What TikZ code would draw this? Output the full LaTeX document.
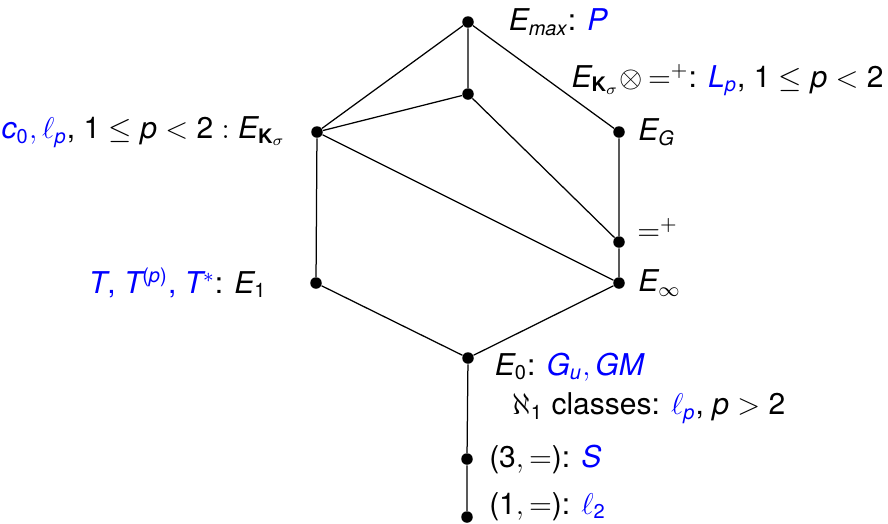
\documentclass[tikz,border=0pt]{standalone}
\usepackage{amsmath}
\usepackage{fontspec}
\setmainfont{TeX Gyre Heros}
\usepackage{tikz}
\usetikzlibrary{positioning}
\newcommand{\mi}[1]{\mathit{#1}}
\newcommand{\nd}[1]{\text{#1}}
\newcommand{\bl}[1]{\textcolor{blue}{#1}}

\begin{document}
\begin{tikzpicture}[
  x=0.4pt, y=-0.4pt,
  font=\fontsize{12}{14}\selectfont,
  dot/.style={circle, fill=black, inner sep=0pt, minimum size=4.6pt},
  lbl/.style={inner sep=0pt},
  edge/.style={line width=0.5pt}
]
\useasboundingbox (0,0) rectangle (888,523);
% lattice points
\node[dot] (vmax) at (468,22) {};
\node[dot] (vmid) at (468,94) {};
\node[dot] (vKs) at (317,132) {};
\node[dot] (vG) at (619,132) {};
\node[dot] (vplus) at (619,242) {};
\node[dot] (vinf) at (619,283) {};
\node[dot] (v1) at (316,283) {};
\node[dot] (v0) at (468,358) {};
\node[dot] (v3) at (467,459) {};
\node[dot] (vone) at (467,517) {};
% labels
\node[lbl, anchor=west] (lprod) at (571,80)
  {$\mi{E}_{\mathbf{K}_\sigma}{\otimes}\,{=}^{+}$: \bl{$\mi{L}_{\mi{p}}$}, $\nd{1}\le\mi{p}<\nd{2}$};
\node[lbl, right=13.6pt of vmax] (lmax) {$\mi{E}_{\mi{max}}$: \bl{$\mi{P}$}};
\node[lbl, right=5pt of vG] (lG) {$\mi{E}_{\mi{G}}$};
\node[lbl, right=4.6pt of vplus, yshift=5pt] (lplus) {$=^{+}$};
\node[lbl, right=5pt of vinf] (linf) {$\mi{E}_\infty$};
\node[lbl, left=9.6pt of vKs] (lKs)
  {\bl{$\mi{c}_{\nd{0}},\ell_{\mi{p}}$}, $\nd{1}\le\mi{p}<\nd{2}:\mi{E}_{\mathbf{K}_\sigma}$};
\node[lbl, left=17pt of v1] (l1)
  {\bl{$\mi{T}$, $\mi{T}^{\nd{(}\mi{p}\nd{)}}$, $\mi{T}^*$}: $\mi{E}_{\nd{1}}$};
\node[lbl, right=8pt of v0, yshift=-3.5pt] (l0) {$\mi{E}_{\nd{0}}$: \bl{$\mi{G}_{\mi{u}},\mi{GM}$}};
\node[lbl, anchor=west] (laleph) at (512,408)
  {$\aleph_{\nd{1}}$ classes: \bl{$\ell_{\mi{p}}$}, $\mi{p}>\nd{2}$};
\node[lbl, right=6.2pt of v3] (l3) {$\nd{(3},{=}\nd{)}$: \bl{$\mi{S}$}};
\node[lbl, right=6.2pt of vone, yshift=4.2pt] (lone) {$\nd{(1},{=}\nd{)}$: \bl{$\ell_{\nd{2}}$}};
% edges
\draw[edge] (vmax) -- (vKs) (vmax) -- (vmid) (vmax) -- (vG)
  (vmid) -- (vKs) (vmid) -- (vplus) (vKs) -- (vinf) (vKs) -- (v1)
  (vG) -- (vplus) -- (vinf) (v1) -- (v0) -- (vinf) (v0) -- (v3) -- (vone);
\end{tikzpicture}
\end{document}
